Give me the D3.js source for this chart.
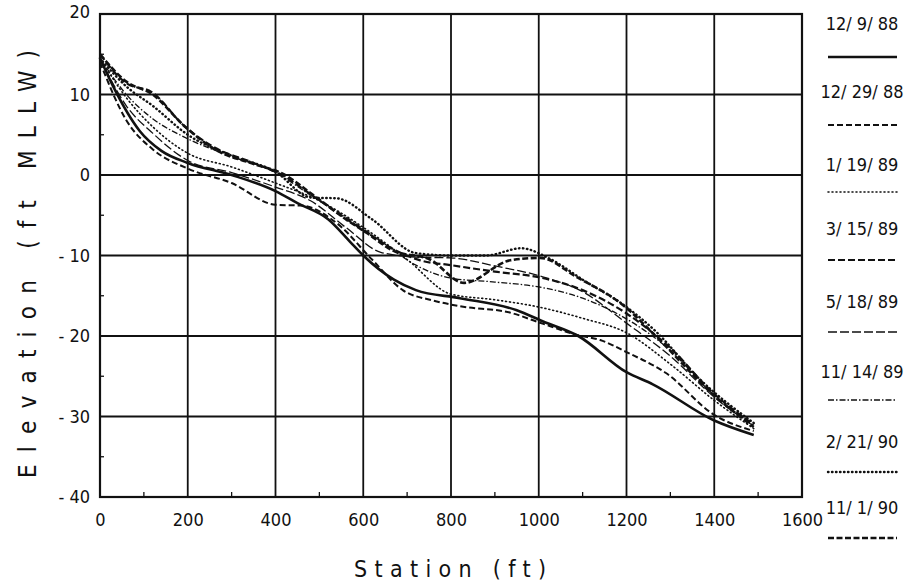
<!DOCTYPE html>
<html>
<head>
<meta charset="utf-8">
<script src="https://cdn.jsdelivr.net/npm/d3@7"></script>
<style>
  body { margin: 0; background: #fff; }
  svg { display: block; }
  text { font-family: "Liberation Sans Narrow", "DejaVu Sans Condensed", "DejaVu Sans", sans-serif; fill: #111; }
</style>
</head>
<body>
<div id="chart"></div>
<script>
// tick values
var xTicks = [0, 200, 400, 600, 800, 1000, 1200, 1400, 1600];
var yTicks = [-40, -30, -20, -10, 0, 10, 20];
var xMinor = [100, 300, 500, 700, 900, 1100, 1300, 1500];
var yMinor = [-35, -25, -15, -5, 5, 15];

// survey dates (legend)
var surveyDates = ["12/ 9/ 88", "12/ 29/ 88", "1/ 19/ 89", "3/ 15/ 89", "5/ 18/ 89", "11/ 14/ 89", "2/ 21/ 90", "11/ 1/ 90"];

// profiles, [station ft, elevation ft MLLW]
var p_121988 = [[0,14.5],[30,11],[90,5.5],[140,3],[200,1.5],[300,0],[400,-2],[450,-3.5],[520,-5.5],[570,-8.3],[600,-10],[670,-13],[720,-14.3],[820,-15.3],[950,-16.8],[1010,-18.2],[1090,-20],[1200,-24.5],[1260,-26],[1400,-30.5],[1490,-32.3]];
var p_122988 = [[0,14],[60,6.8],[120,3.2],[200,0.8],[300,-1],[400,-3.7],[460,-3.8],[540,-6],[620,-10.5],[690,-14.3],[760,-15.6],[820,-16.3],[935,-17.1],[1000,-18.3],[1090,-19.9],[1140,-20.5],[1200,-22],[1290,-24.6],[1400,-29.8],[1490,-31.8]];
var p_011989 = [[0,14.5],[60,9.6],[120,6],[200,2.7],[300,1],[400,-1],[500,-3.2],[600,-6.5],[700,-10.5],[800,-14.8],[900,-15.5],[1000,-16.4],[1100,-17.8],[1200,-19.6],[1300,-23.5],[1400,-28],[1490,-31.5]];
var p_031589 = [[0,15],[60,11.4],[118,10.3],[190,6.2],[255,3.6],[350,1.5],[415,0],[480,-2.4],[560,-5.4],[610,-7.2],[668,-9.2],[730,-10.6],[800,-11.2],[900,-12],[1000,-12.7],[1100,-14.3],[1200,-17.2],[1300,-21.5],[1400,-27.2],[1490,-31]];
var p_051889 = [[0,14.5],[60,8.6],[120,5.2],[200,1.8],[300,0.3],[400,-1.5],[480,-3.2],[560,-6.5],[640,-9.6],[720,-10.2],[800,-10.3],[900,-11.3],[1000,-12.5],[1100,-14.5],[1200,-18.4],[1300,-22.5],[1400,-27.6],[1490,-31.2]];
var p_111489 = [[0,14.5],[60,10],[120,7],[200,4.5],[300,2.3],[400,0.3],[480,-2.5],[560,-5.2],[650,-8.6],[720,-11.2],[800,-12.8],[900,-13.3],[1000,-13.9],[1100,-15.3],[1178,-17.2],[1300,-21.8],[1400,-27.4],[1490,-31.1]];
var p_022190 = [[0,14.5],[60,11],[120,8.6],[200,5],[300,2.4],[400,0.4],[480,-2.8],[540,-2.9],[620,-5.5],[720,-9.7],[800,-10],[880,-10],[960,-9.1],[1025,-10.4],[1100,-13],[1200,-16.4],[1270,-19.6],[1360,-25],[1490,-30.8]];
var p_110190 = [[0,15],[60,11.6],[120,10],[194,6],[255,3.4],[354,1.3],[415,0.2],[479,-2.2],[563,-5.6],[608,-7.2],[668,-9.4],[752,-10.5],[830,-13.4],[935,-10.6],[1003,-10.3],[1087,-12.7],[1193,-16.2],[1270,-20.2],[1400,-27.4],[1490,-31.3]];

var profiles = [p_121988, p_122988, p_011989, p_031589, p_051889, p_111489, p_022190, p_110190];

// line look per survey
var styles = [
  { w: 2.6, dash: null },
  { w: 2.0, dash: "6,3" },
  { w: 1.6, dash: "1,3" },
  { w: 2.2, dash: "7,3" },
  { w: 1.3, dash: "9,3" },
  { w: 1.3, dash: "6,2,1.5,2" },
  { w: 2.4, dash: "0.5,3.5" },
  { w: 2.6, dash: "6,2.5" }
];

var W = 912, H = 587;
var LEFT = 100, RIGHT = 802, TOP = 14, BOTTOM = 497;

var x = d3.scaleLinear().domain([0, 1600]).range([LEFT, RIGHT]);
var y = d3.scaleLinear().domain([-40, 20]).range([BOTTOM, TOP]);

var svg = d3.select("#chart").append("svg")
    .attr("width", W)
    .attr("height", H);

// grid lines
svg.append("g").selectAll("line.gx")
    .data(xTicks)
    .enter()
    .append("line")
    .attr("x1", function(d) { return x(d); })
    .attr("x2", function(d) { return x(d); })
    .attr("y1", TOP)
    .attr("y2", BOTTOM)
    .style("stroke", "#111")
    .style("stroke-width", 1.8);

svg.append("g").selectAll("line.gy")
    .data(yTicks)
    .enter()
    .append("line")
    .attr("x1", LEFT)
    .attr("x2", RIGHT)
    .attr("y1", function(d) { return y(d); })
    .attr("y2", function(d) { return y(d); })
    .style("stroke", "#111")
    .style("stroke-width", 1.8);

// minor ticks
svg.append("g").selectAll("line")
    .data(xMinor)
    .enter()
    .append("line")
    .attr("x1", function(d) { return x(d); })
    .attr("x2", function(d) { return x(d); })
    .attr("y1", BOTTOM)
    .attr("y2", BOTTOM - 5)
    .style("stroke", "#111")
    .style("stroke-width", 1.3);

svg.append("g").selectAll("line")
    .data(yMinor)
    .enter()
    .append("line")
    .attr("x1", LEFT)
    .attr("x2", LEFT + 4)
    .attr("y1", function(d) { return y(d); })
    .attr("y2", function(d) { return y(d); })
    .style("stroke", "#111")
    .style("stroke-width", 1.3);

// frame
svg.append("rect")
    .attr("x", LEFT)
    .attr("y", TOP)
    .attr("width", RIGHT - LEFT)
    .attr("height", BOTTOM - TOP)
    .style("fill", "none")
    .style("stroke", "#111")
    .style("stroke-width", 2.2);

// axes labels
var xAxis = d3.axisBottom(x).tickValues(xTicks).tickSize(0).tickPadding(16).tickFormat(d3.format("d"));
var gx = svg.append("g").attr("transform", "translate(0," + BOTTOM + ")").call(xAxis);
gx.select(".domain").remove();
gx.selectAll("text").style("font-size", "18px");

var yAxis = d3.axisLeft(y).tickValues(yTicks).tickSize(0).tickPadding(10)
    .tickFormat(function(d) { return d < 0 ? "- " + Math.abs(d) : d; });
var gy = svg.append("g").attr("transform", "translate(" + LEFT + ",0)").call(yAxis);
gy.select(".domain").remove();
gy.selectAll("text").style("font-size", "18px")
    .attr("dy", function(d) { return d == 20 ? "0.2em" : "0.32em"; });

// titles
svg.append("text")
    .attr("x", 450)
    .attr("y", 577)
    .attr("text-anchor", "middle")
    .attr("textLength", 192)
    .attr("lengthAdjust", "spacing")
    .style("font-size", "23px")
    .text("Station (ft)");

svg.append("text")
    .attr("transform", "translate(36,264) rotate(-90)")
    .attr("text-anchor", "middle")
    .attr("textLength", 428)
    .attr("lengthAdjust", "spacing")
    .style("font-size", "24px")
    .text("Elevation (ft MLLW)");

// profiles
var line = d3.line()
    .x(function(d) { return x(d[0]); })
    .y(function(d) { return y(d[1]); })
    .curve(d3.curveMonotoneX);

svg.append("g").selectAll("path")
    .data(profiles)
    .enter()
    .append("path")
    .attr("d", line)
    .style("fill", "none")
    .style("stroke", "#111")
    .style("stroke-width", function(d, i) { return styles[i].w; })
    .style("stroke-dasharray", function(d, i) { return styles[i].dash; })
    .style("stroke-linecap", function(d, i) { return i == 2 || i == 6 ? "round" : "butt"; });

// legend
var legTextY = [24, 92, 165, 229, 302, 372, 442, 508];
var legLineY = [57, 125, 192, 260, 332, 400, 472, 538];

var leg = svg.append("g");
leg.selectAll("text")
    .data(surveyDates)
    .enter()
    .append("text")
    .attr("x", 862)
    .attr("y", function(d, i) { return legTextY[i]; })
    .attr("dy", "0.35em")
    .attr("text-anchor", "middle")
    .style("font-size", "18px")
    .text(function(d) { return d; });

leg.selectAll("line")
    .data(surveyDates)
    .enter()
    .append("line")
    .attr("x1", 828)
    .attr("x2", 897)
    .attr("y1", function(d, i) { return legLineY[i]; })
    .attr("y2", function(d, i) { return legLineY[i]; })
    .style("stroke", "#111")
    .style("stroke-width", function(d, i) { return styles[i].w; })
    .style("stroke-dasharray", function(d, i) { return styles[i].dash; })
    .style("stroke-linecap", function(d, i) { return i == 2 || i == 6 ? "round" : "butt"; });
</script>
</body>
</html>
